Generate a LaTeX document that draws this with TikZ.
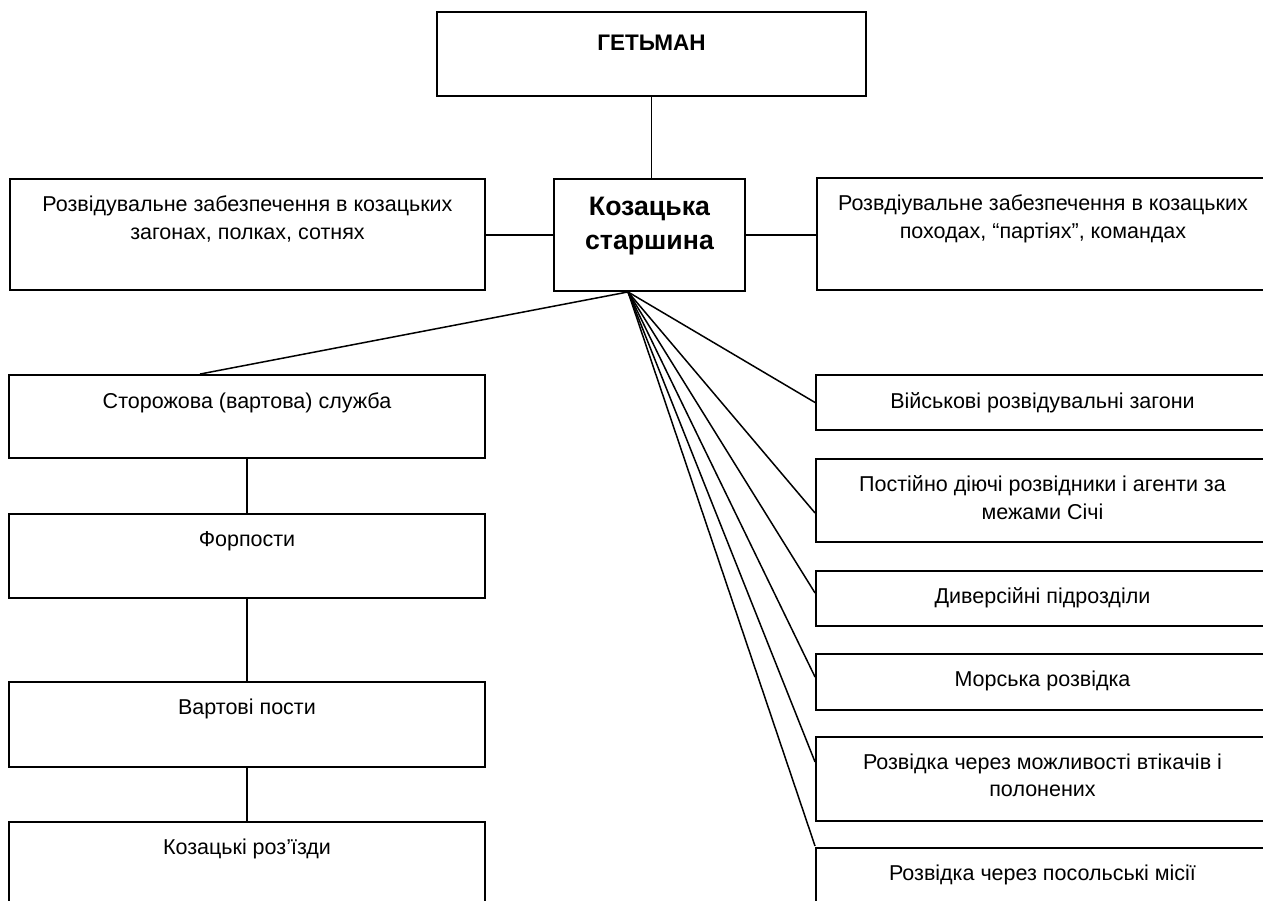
\documentclass[tikz,border=0pt]{standalone}
\usepackage{fontspec}
\setmainfont{Liberation Sans}
\usetikzlibrary{calc}

\begin{document}
\begin{tikzpicture}[x=1pt, y=-1pt,
		box/.style={draw, rectangle, line width=1.9pt, inner sep=0pt},
		txt/.style={anchor=north, inner sep=0pt, align=center, font=\fontsize{21.5}{27.5}\selectfont},
		headtxt/.style={anchor=north, inner sep=0pt, align=center, font=\bfseries\fontsize{22.5}{27}\selectfont},
		chieftxt/.style={anchor=north, inner sep=0pt, align=center, font=\bfseries\fontsize{26.7}{34}\selectfont},
		link/.style={line width=1.5pt}]
			%%%%% START %%%%%
			
			\useasboundingbox (0, 0) rectangle (1263, 901);
			
			% top
			\node[box, minimum width=429pt, minimum height=84pt] (hetman) at (651.5, 54) {};
			\node[headtxt] (hetmanT) at ([yshift=-24pt]hetman.north) {ГЕТЬМАН};
			
			\node[box, minimum width=191pt, minimum height=112pt] (starshyna) at (649.5, 235) {};
			\node[chieftxt] (starshynaT) at ([yshift=-19pt]starshyna.north) {Козацька\\старшина};
			
			\node[box, minimum width=475pt, minimum height=111pt] (zagony) at (247.5, 234.5) {};
			\node[txt] (zagonyT) at ([yshift=-17.5pt]zagony.north) {Розвідувальне забезпечення в козацьких\\загонах, полках, сотнях};
			
			\node[box, minimum width=452pt, minimum height=112pt] (pohody) at (1043, 234) {};
			\node[txt] (pohodyT) at ([yshift=-17.5pt]pohody.north) {Розвдіувальне забезпечення в козацьких\\походах, “партіях”, командах};
			
			% left column
			\node[box, minimum width=476pt, minimum height=83pt] (storozh) at (247, 416.5) {};
			\node[txt] (storozhT) at ([yshift=-18pt]storozh.north) {Сторожова (вартова) служба};
			
			\node[box, minimum width=476pt, minimum height=84pt] (forposty) at (247, 556) {};
			\node[txt] (forpostyT) at ([yshift=-18pt]forposty.north) {Форпости};
			
			\node[box, minimum width=476pt, minimum height=85pt] (vartovi) at (247, 724.5) {};
			\node[txt] (vartoviT) at ([yshift=-18pt]vartovi.north) {Вартові пости};
			
			\node[box, minimum width=476pt, minimum height=84pt] (rozizdy) at (247, 864) {};
			\node[txt] (rozizdyT) at ([yshift=-18pt]rozizdy.north) {Козацькі роз’їзди};
			
			% right column
			\node[box, minimum width=453pt, minimum height=55pt] (viysk) at (1042.5, 402.5) {};
			\node[txt] (viyskT) at ([yshift=-18pt]viysk.north) {Військові розвідувальні загони};
			
			\node[box, minimum width=453pt, minimum height=83pt] (agenty) at (1042.5, 500.5) {};
			\node[txt] (agentyT) at ([yshift=-17.5pt]agenty.north) {Постійно діючі розвідники і агенти за\\межами Січі};
			
			\node[box, minimum width=453pt, minimum height=55pt] (dyvers) at (1042.5, 598.5) {};
			\node[txt] (dyversT) at ([yshift=-17.5pt]dyvers.north) {Диверсійні підрозділи};
			
			\node[box, minimum width=453pt, minimum height=56pt] (morska) at (1042.5, 682) {};
			\node[txt] (morskaT) at ([yshift=-17.5pt]morska.north) {Морська розвідка};
			
			\node[box, minimum width=453pt, minimum height=84pt] (polon) at (1042.5, 779) {};
			\node[txt] (polonT) at ([yshift=-17.5pt]polon.north) {Розвідка через можливості втікачів і\\полонених};
			
			\node[box, minimum width=453pt, minimum height=84pt] (posol) at (1042.5, 890) {};
			\node[txt] (posolT) at ([yshift=-17.5pt]posol.north) {Розвідка через посольські місії};
			
			% connectors
			\draw[link] (hetman.south) -- (hetman.south |- starshyna.north);
			\draw[link] (starshyna.west) -- (zagony.east |- starshyna.west);
			\draw[link] (starshyna.east) -- (pohody.west |- starshyna.east);
			
			\coordinate (hub) at ([xshift=-21.5pt]starshyna.south);
			\draw[link] (hub) -- ([xshift=-47pt]storozh.north);
			\draw[link] (hub) -- (viysk.west);
			\draw[link] (hub) -- ([yshift=-12.5pt]agenty.west);
			\draw[link] (hub) -- ([yshift=5.5pt]dyvers.west);
			\draw[link] (hub) -- ([yshift=5pt]morska.west);
			\draw[link] (hub) -- ([yshift=17pt]polon.west);
			\draw[link] (hub) -- ([yshift=1pt]posol.north west);
			
			\draw[link] (storozh.south) -- (forposty.north);
			\draw[link] (forposty.south) -- (vartovi.north);
			\draw[link] (vartovi.south) -- (rozizdy.north);
			
			%%%%% END %%%%%
		\end{tikzpicture}
\end{document}
